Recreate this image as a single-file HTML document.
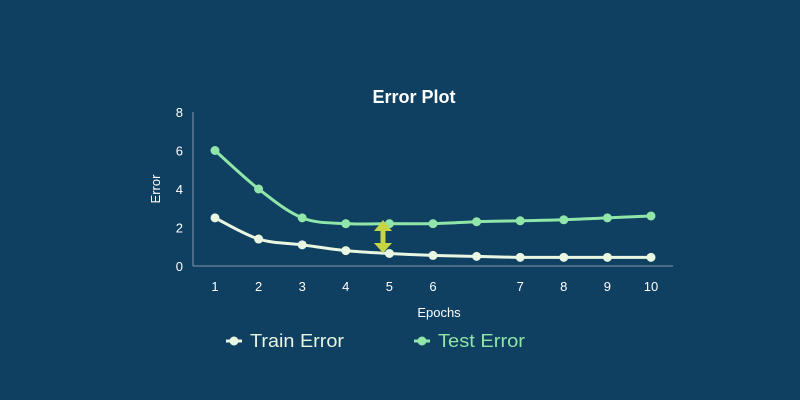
<!DOCTYPE html>
<html><head><meta charset="utf-8"><style>
body{margin:0;background:#0f3f61;}
svg{display:block;font-family:"Liberation Sans",sans-serif;}
</style></head><body>
<svg id="chart" width="800" height="400">
<rect width="800" height="400" fill="#0f3f61"/>
<text x="414" y="103" fill="#ffffff" font-size="18" font-weight="bold" text-anchor="middle">Error Plot</text>
<text transform="translate(160,189) rotate(-90)" fill="#ffffff" font-size="13" text-anchor="middle">Error</text>
<text x="439" y="317" fill="#ffffff" font-size="13" text-anchor="middle">Epochs</text>
<line x1="193" y1="112" x2="193" y2="266" stroke="#8a9aaa" stroke-width="1"/>
<line x1="193" y1="266" x2="673" y2="266" stroke="#8a9aaa" stroke-width="1"/>
<g id="ticks"></g>
<g id="series"></g>
<g>
<line x1="383" y1="228" x2="383" y2="246" stroke="#c5d545" stroke-width="5"/>
<polygon points="374,231 392,231 383,220" fill="#c5d545"/>
<polygon points="374,243 392,243 383,253" fill="#c5d545"/>
</g>
<g>
<line x1="226" y1="341" x2="242" y2="341" stroke="#e8f6e2" stroke-width="3"/>
<circle cx="234" cy="341" r="4.5" fill="#e8f6e2"/>
<text x="250" y="347" fill="#e8f6e2" font-size="18" textLength="94" lengthAdjust="spacingAndGlyphs">Train Error</text>
</g>
<g>
<line x1="414" y1="341" x2="430" y2="341" stroke="#8fe6a8" stroke-width="3"/>
<circle cx="422" cy="341" r="4.5" fill="#8fe6a8"/>
<text x="438" y="347" fill="#8fe6a8" font-size="18" textLength="87" lengthAdjust="spacingAndGlyphs">Test Error</text>
</g>
</svg>
<script>
const categories=["1","2","3","4","5","6","","7","8","9","10"];
const trainValues=[2.5,1.4,1.1,0.8,0.65,0.55,0.5,0.45,0.45,0.45,0.45];
const testValues=[6,4,2.5,2.2,2.2,2.2,2.3,2.35,2.4,2.5,2.6];
const yTicks=[0,2,4,6,8];
const NS="http://www.w3.org/2000/svg";
function xPos(i){return 215+i*(651-215)/(categories.length-1);}
function yPos(v){return 266-v*(266-112)/8;}
const tg=document.getElementById('ticks');
yTicks.forEach(t=>{
 const e=document.createElementNS(NS,'text');
 e.setAttribute('x',183);e.setAttribute('y',yPos(t)+5);
 e.setAttribute('fill','#fff');e.setAttribute('font-size','13');e.setAttribute('text-anchor','end');
 
 
 e.textContent=t;tg.appendChild(e);
});
categories.forEach((c,i)=>{
 if(!c)return;
 const e=document.createElementNS(NS,'text');
 e.setAttribute('x',xPos(i));e.setAttribute('y',291);
 e.setAttribute('fill','#fff');e.setAttribute('font-size','13');e.setAttribute('text-anchor','middle');
 
 
 e.textContent=c;tg.appendChild(e);
});
function smooth(pts){
 let d='M'+pts[0][0]+','+pts[0][1];
 for(let i=0;i<pts.length-1;i++){
  const p0=pts[i-1]||pts[i],p1=pts[i],p2=pts[i+1],p3=pts[i+2]||p2;
  const c1=[p1[0]+(p2[0]-p0[0])/6,p1[1]+(p2[1]-p0[1])/6];
  const c2=[p2[0]-(p3[0]-p1[0])/6,p2[1]-(p3[1]-p1[1])/6];
  d+=' C'+c1+' '+c2+' '+p2;
 }
 return d;
}
const sg=document.getElementById('series');
function draw(vals,color,name){
 const pts=vals.map((v,i)=>[xPos(i),yPos(v)]);
 const p=document.createElementNS(NS,'path');
 p.setAttribute('d',smooth(pts));p.setAttribute('fill','none');
 p.setAttribute('stroke',color);p.setAttribute('stroke-width','3');
 
 
 sg.appendChild(p);
 pts.forEach(q=>{
  const c=document.createElementNS(NS,'circle');
  c.setAttribute('cx',q[0]);c.setAttribute('cy',q[1]);c.setAttribute('r',4.5);c.setAttribute('fill',color);
  
  
  sg.appendChild(c);
 });
}
draw(testValues,'#8fe6a8','test-error');
draw(trainValues,'#e8f6e2','train-error');
</script>
</body></html>
